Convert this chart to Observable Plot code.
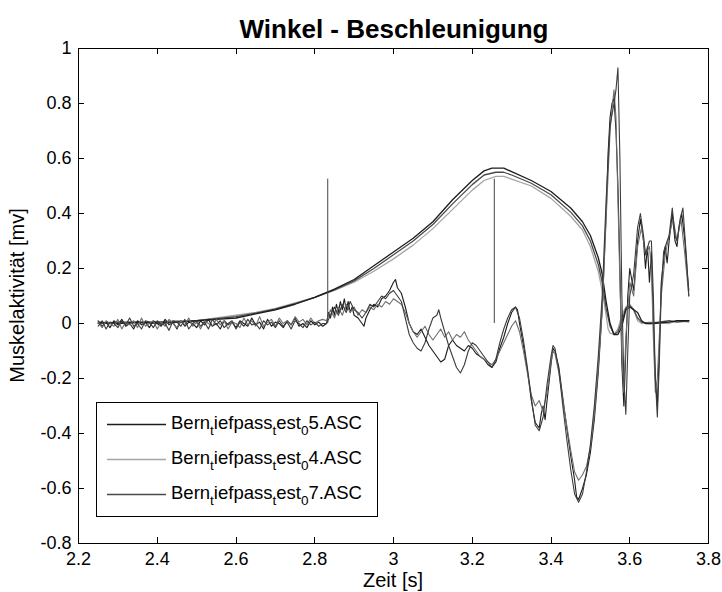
<!DOCTYPE html>
<html><head><meta charset="utf-8">
<script src="https://cdn.jsdelivr.net/npm/d3@7"></script>
<script src="https://cdn.jsdelivr.net/npm/@observablehq/plot@0.6"></script>
<style>
html,body{margin:0;padding:0;background:#fff;}
#chart svg{display:block;}
</style>
</head><body><div id="chart"></div>
<script>
// ---------- data ----------
const titleText = "Winkel - Beschleunigung";
const xLabel = "Zeit [s]";
const yLabel = "Muskelaktivität [mv]";
const xTicks = [2.2, 2.4, 2.6, 2.8, 3, 3.2, 3.4, 3.6, 3.8];
const yTicks = [-0.8, -0.6, -0.4, -0.2, 0, 0.2, 0.4, 0.6, 0.8, 1];
const seriesNames = ["Bern_tiefpass_test_05.ASC", "Bern_tiefpass_test_04.ASC", "Bern_tiefpass_test_07.ASC"];
const seriesColors = ["#1c1c1c", "#a4a4a4", "#4a4a4a"];

const markerTimes = [2.833, 3.256];
const markerBase = 0;
const markerTop = 0.525;

// baseline EMG noise, sampled every 0.01 s starting at 2.25 s
const baseStart = 2.25, baseStep = 0.01;
const noise05 = [0.01,-0.01,0.005,-0.015,0.01,-0.005,0.015,-0.01,0.0,-0.02,0.01,-0.005,0.005,-0.015,0.01,0.0,-0.01,0.015,-0.005,0.005,-0.02,0.01,-0.01,0.005,0.0,-0.015,0.01,-0.005,0.015,-0.01,0.0,-0.02,0.01,-0.005,0.005,-0.015,0.01,0.0,-0.01,0.02,-0.005,0.005,-0.02,0.015,-0.01,0.005,0.0,-0.015,0.01,-0.005,0.02,-0.01,0.0,-0.015,0.01,-0.005,0.005,-0.01];
const noise04 = [0.005,-0.015,0.01,0.0,-0.01,0.015,-0.02,0.005,-0.005,0.01,-0.015,0.02,-0.01,0.0,0.01,-0.02,0.005,-0.01,0.015,0.0,-0.015,0.01,-0.005,0.02,-0.01,0.005,-0.02,0.01,0.0,-0.01,0.015,-0.005,0.01,-0.02,0.005,0.0,-0.015,0.02,-0.005,0.01,-0.01,0.025,-0.01,0.005,0.015,-0.01,0.02,0.0,0.01,-0.005,0.025,0.005,0.015,-0.005,0.02,0.0,0.01,0.015];
const noise07 = [-0.01,0.01,-0.02,0.005,0.0,-0.015,0.01,-0.005,0.02,-0.01,0.0,-0.02,0.01,0.005,-0.015,0.01,-0.005,0.0,-0.025,0.01,0.005,-0.01,0.015,-0.02,0.0,0.01,-0.01,0.005,-0.02,0.015,-0.005,0.01,-0.015,0.0,0.01,-0.02,0.005,-0.01,0.015,-0.005,0.0,-0.02,0.01,-0.005,0.005,-0.015,0.01,-0.01,0.005,-0.02,0.01,0.0,-0.015,0.01,-0.005,0.005,-0.01,0.0];

// EMG detail [time, value]
const emg05 = [[2.83,0.0],[2.835,0.04],[2.84,0.02],[2.845,0.06],[2.85,0.03],[2.855,0.07],[2.86,0.04],[2.865,0.08],[2.87,0.05],[2.875,0.09],[2.88,0.05],[2.885,0.08],[2.89,0.04],[2.895,0.06],[2.9,0.03],[2.91,0.02],[2.92,0.0],[2.925,-0.01],[2.93,0.02],[2.94,0.05],[2.95,0.07],[2.96,0.06],[2.97,0.09],[2.98,0.1],[2.99,0.12],[3.0,0.15],[3.005,0.16],[3.01,0.13],[3.02,0.11],[3.03,0.06],[3.04,0.0],[3.05,-0.03],[3.06,-0.04],[3.07,-0.02],[3.08,-0.05],[3.09,-0.08],[3.1,-0.1],[3.11,-0.12],[3.12,-0.14],[3.13,-0.13],[3.14,-0.08],[3.15,-0.06],[3.16,-0.08],[3.17,-0.09],[3.18,-0.1],[3.19,-0.08],[3.2,-0.09],[3.21,-0.11],[3.22,-0.12],[3.23,-0.13],[3.24,-0.15],[3.25,-0.16],[3.26,-0.14],[3.27,-0.09],[3.28,-0.05],[3.29,0.0],[3.3,0.04],[3.31,0.06],[3.315,0.05],[3.32,0.0],[3.33,-0.08],[3.34,-0.17],[3.35,-0.28],[3.36,-0.36],[3.37,-0.38],[3.375,-0.33],[3.38,-0.3],[3.385,-0.35],[3.39,-0.28],[3.4,-0.15],[3.405,-0.09],[3.41,-0.1],[3.42,-0.16],[3.43,-0.27],[3.44,-0.38],[3.45,-0.48],[3.46,-0.57],[3.465,-0.63],[3.47,-0.64],[3.48,-0.6],[3.49,-0.55],[3.5,-0.47],[3.51,-0.35],[3.52,-0.18],[3.53,0.05],[3.54,0.4],[3.545,0.62],[3.55,0.75],[3.555,0.8],[3.56,0.82],[3.565,0.7],[3.57,0.5],[3.575,0.2],[3.58,-0.15],[3.585,-0.3],[3.59,-0.1],[3.595,0.1],[3.6,0.2],[3.61,0.12],[3.62,0.3],[3.627,0.38],[3.635,0.3],[3.64,0.2],[3.645,0.28],[3.65,0.15],[3.655,0.26],[3.66,0.0],[3.665,-0.2],[3.67,-0.3],[3.675,-0.1],[3.68,0.15],[3.69,0.28],[3.695,0.22],[3.7,0.3],[3.708,0.4],[3.715,0.3],[3.72,0.28],[3.725,0.35],[3.732,0.4],[3.74,0.3],[3.745,0.2],[3.75,0.12]];
const emg04 = [[2.83,0.01],[2.84,0.05],[2.85,0.02],[2.86,0.06],[2.87,0.03],[2.88,0.07],[2.89,0.04],[2.9,0.06],[2.91,0.03],[2.92,0.05],[2.93,0.04],[2.94,0.06],[2.95,0.05],[2.96,0.07],[2.97,0.06],[2.98,0.08],[2.99,0.07],[3.0,0.09],[3.01,0.08],[3.02,0.07],[3.03,0.04],[3.04,0.0],[3.05,-0.03],[3.06,-0.05],[3.07,-0.03],[3.08,-0.01],[3.09,-0.04],[3.1,-0.06],[3.11,-0.04],[3.12,-0.02],[3.13,-0.05],[3.14,-0.03],[3.15,-0.06],[3.16,-0.04],[3.17,-0.05],[3.18,-0.03],[3.19,-0.06],[3.2,-0.08],[3.21,-0.1],[3.22,-0.12],[3.23,-0.13],[3.24,-0.14],[3.25,-0.15],[3.26,-0.13],[3.27,-0.1],[3.28,-0.07],[3.29,-0.04],[3.3,-0.01],[3.31,0.01],[3.32,-0.03],[3.33,-0.1],[3.34,-0.18],[3.35,-0.26],[3.36,-0.3],[3.37,-0.28],[3.38,-0.32],[3.39,-0.25],[3.4,-0.14],[3.405,-0.1],[3.41,-0.11],[3.42,-0.18],[3.43,-0.28],[3.44,-0.37],[3.45,-0.46],[3.46,-0.54],[3.47,-0.57],[3.48,-0.55],[3.49,-0.52],[3.5,-0.45],[3.51,-0.33],[3.52,-0.16],[3.53,0.05],[3.54,0.38],[3.55,0.7],[3.555,0.78],[3.56,0.85],[3.565,0.75],[3.57,0.45],[3.575,0.15],[3.58,-0.1],[3.585,-0.25],[3.59,-0.05],[3.6,0.15],[3.61,0.1],[3.62,0.28],[3.63,0.35],[3.64,0.25],[3.65,0.28],[3.655,0.2],[3.66,-0.05],[3.665,-0.25],[3.67,-0.2],[3.68,0.1],[3.69,0.25],[3.7,0.32],[3.71,0.38],[3.72,0.3],[3.73,0.38],[3.74,0.25],[3.75,0.1]];
const emg07 = [[2.83,0.0],[2.84,0.03],[2.85,0.06],[2.86,0.03],[2.87,0.07],[2.88,0.04],[2.89,0.08],[2.9,0.05],[2.91,0.04],[2.92,0.02],[2.93,0.04],[2.94,0.07],[2.95,0.06],[2.96,0.08],[2.97,0.1],[2.98,0.09],[2.99,0.11],[3.0,0.12],[3.01,0.1],[3.02,0.08],[3.03,0.02],[3.04,-0.04],[3.05,-0.07],[3.06,-0.09],[3.07,-0.1],[3.08,-0.07],[3.09,-0.02],[3.1,0.02],[3.11,0.03],[3.115,0.05],[3.12,0.02],[3.13,-0.03],[3.14,-0.08],[3.15,-0.12],[3.16,-0.16],[3.17,-0.18],[3.18,-0.15],[3.19,-0.1],[3.2,-0.07],[3.21,-0.08],[3.22,-0.1],[3.23,-0.12],[3.24,-0.14],[3.25,-0.16],[3.26,-0.13],[3.27,-0.07],[3.28,-0.02],[3.29,0.02],[3.3,0.05],[3.31,0.06],[3.32,0.02],[3.33,-0.06],[3.34,-0.16],[3.35,-0.27],[3.36,-0.37],[3.37,-0.39],[3.38,-0.34],[3.39,-0.22],[3.4,-0.12],[3.405,-0.08],[3.41,-0.09],[3.42,-0.17],[3.43,-0.3],[3.44,-0.42],[3.45,-0.53],[3.46,-0.62],[3.47,-0.65],[3.48,-0.62],[3.49,-0.54],[3.5,-0.44],[3.51,-0.3],[3.52,-0.12],[3.53,0.1],[3.54,0.45],[3.55,0.72],[3.56,0.8],[3.565,0.85],[3.57,0.93],[3.575,0.6],[3.58,0.1],[3.585,-0.2],[3.59,-0.33],[3.595,-0.1],[3.6,0.1],[3.61,0.18],[3.62,0.35],[3.627,0.4],[3.635,0.32],[3.64,0.25],[3.65,0.3],[3.655,0.3],[3.66,0.1],[3.665,-0.2],[3.67,-0.34],[3.675,-0.15],[3.68,0.12],[3.686,0.26],[3.695,0.3],[3.7,0.32],[3.708,0.42],[3.715,0.32],[3.72,0.3],[3.728,0.38],[3.735,0.42],[3.74,0.32],[3.745,0.22],[3.75,0.1]];

// angle curves [time, value]
const ang05 = [[2.25,0.005],[2.3,0.0],[2.35,0.005],[2.4,0.005],[2.45,0.005],[2.5,0.01],[2.55,0.015],[2.6,0.02],[2.65,0.035],[2.7,0.05],[2.75,0.07],[2.8,0.095],[2.85,0.125],[2.9,0.16],[2.95,0.21],[3.0,0.26],[3.05,0.31],[3.1,0.37],[3.15,0.45],[3.2,0.52],[3.23,0.555],[3.25,0.565],[3.28,0.565],[3.3,0.552],[3.35,0.52],[3.4,0.48],[3.45,0.42],[3.48,0.37],[3.5,0.32],[3.52,0.24],[3.53,0.18],[3.54,0.08],[3.55,0.0],[3.56,-0.04],[3.57,-0.04],[3.58,-0.01],[3.59,0.05],[3.6,0.06],[3.61,0.05],[3.62,0.04],[3.63,0.01],[3.64,0.0],[3.66,0.0],[3.7,0.005],[3.72,0.01],[3.75,0.01]];
const ang04 = [[2.25,0.0],[2.3,0.005],[2.35,0.0],[2.4,0.005],[2.45,0.01],[2.5,0.01],[2.55,0.02],[2.6,0.03],[2.65,0.04],[2.7,0.055],[2.75,0.075],[2.8,0.095],[2.85,0.12],[2.9,0.15],[2.95,0.19],[3.0,0.235],[3.05,0.285],[3.1,0.345],[3.15,0.415],[3.2,0.485],[3.23,0.52],[3.26,0.535],[3.28,0.535],[3.3,0.525],[3.35,0.5],[3.4,0.455],[3.45,0.39],[3.48,0.34],[3.5,0.28],[3.52,0.19],[3.53,0.12],[3.54,0.03],[3.545,-0.02],[3.55,-0.035],[3.56,-0.04],[3.57,-0.02],[3.58,0.03],[3.59,0.06],[3.6,0.07],[3.61,0.05],[3.62,0.01],[3.63,0.0],[3.65,0.005],[3.7,0.0],[3.72,0.01],[3.75,0.005]];
const ang07 = [[2.25,0.0],[2.3,0.005],[2.35,0.005],[2.4,0.0],[2.45,0.005],[2.5,0.01],[2.55,0.018],[2.6,0.025],[2.65,0.038],[2.7,0.052],[2.75,0.072],[2.8,0.095],[2.85,0.122],[2.9,0.155],[2.95,0.2],[3.0,0.25],[3.05,0.3],[3.1,0.36],[3.15,0.435],[3.2,0.505],[3.23,0.54],[3.26,0.55],[3.28,0.55],[3.3,0.54],[3.35,0.51],[3.4,0.468],[3.45,0.405],[3.48,0.355],[3.5,0.3],[3.52,0.215],[3.53,0.15],[3.54,0.055],[3.55,-0.01],[3.56,-0.04],[3.57,-0.03],[3.58,0.01],[3.59,0.055],[3.6,0.065],[3.61,0.05],[3.62,0.02],[3.63,0.005],[3.65,0.0],[3.7,0.01],[3.72,0.005],[3.75,0.01]];

// ---------- build table ----------
function emgRows(noise, detail, name) {
  const rows = noise.map((v, i) => ({t: baseStart + i * baseStep, v, s: name}));
  return rows.concat(detail.map(([t, v]) => ({t, v, s: name})));
}
const emgData = [
  ...emgRows(noise05, emg05, "emg05"),
  ...emgRows(noise04, emg04, "emg04"),
  ...emgRows(noise07, emg07, "emg07")
];
const angData = [
  ...ang05.map(([t, v]) => ({t, v, s: "ang05"})),
  ...ang04.map(([t, v]) => ({t, v, s: "ang04"})),
  ...ang07.map(([t, v]) => ({t, v, s: "ang07"}))
];
const colorOf = {ang05: seriesColors[0], ang04: seriesColors[1], ang07: seriesColors[2]};
const emgColorOf = {emg05: "#1c1c1c", emg04: "#6e6e6e", emg07: "#3c3c3c"};

const fmt = d => String(d);
const FONT = "'Liberation Sans', Arial, sans-serif";

const plot = Plot.plot({
  width: 722, height: 592,
  marginLeft: 78, marginRight: 14, marginTop: 48, marginBottom: 49,
  x: {domain: [2.2, 3.8], label: null},
  y: {domain: [-0.8, 1], label: null},
  style: {fontFamily: FONT, fontSize: "18px", background: "#fff", color: "#000"},
  marks: [
    Plot.line(angData.filter(d => d.s === "ang04"), {x: "t", y: "v", stroke: colorOf.ang04, strokeWidth: 1.3}),
    Plot.line(angData.filter(d => d.s === "ang07"), {x: "t", y: "v", stroke: colorOf.ang07, strokeWidth: 1.3}),
    Plot.line(angData.filter(d => d.s === "ang05"), {x: "t", y: "v", stroke: colorOf.ang05, strokeWidth: 1.3}),
    Plot.line(emgData, {x: "t", y: "v", z: "s", stroke: d => emgColorOf[d.s], strokeWidth: 1.1}),
    Plot.ruleX(markerTimes, {x: d => d, y1: () => markerBase, y2: () => markerTop, stroke: "#444", strokeWidth: 1}),
    Plot.frame({stroke: "#000", strokeWidth: 1}),
    Plot.axisX({anchor: "bottom", ticks: xTicks, tickSize: 0, tickPadding: 9, tickFormat: fmt, label: null}),
    Plot.axisY({anchor: "left", ticks: yTicks, tickSize: 0, tickPadding: 7, tickFormat: fmt, label: null})
  ]
});
document.getElementById("chart").appendChild(plot);

// inward ticks on all four sides, title, labels, legend
const svg = d3.select(plot);
const sx = plot.scale("x"), sy = plot.scale("y");
const L = 78, R = 722 - 14, T = 48, B = 592 - 49, TL = 6;
const tg = svg.append("g").attr("stroke", "#000").attr("stroke-width", 1);
xTicks.forEach(v => {
  const x = Math.round(sx.apply(v)) + 0.5;
  tg.append("line").attr("x1", x).attr("x2", x).attr("y1", B).attr("y2", B - TL);
  tg.append("line").attr("x1", x).attr("x2", x).attr("y1", T).attr("y2", T + TL);
});
yTicks.forEach(v => {
  const y = Math.round(sy.apply(v)) + 0.5;
  tg.append("line").attr("y1", y).attr("y2", y).attr("x1", L).attr("x2", L + TL);
  tg.append("line").attr("y1", y).attr("y2", y).attr("x1", R).attr("x2", R - TL);
});

svg.append("text").attr("x", 394).attr("y", 38).attr("text-anchor", "middle")
  .style("font-family", FONT).style("font-weight", "bold").style("font-size", "26px")
  .text(titleText);
svg.append("text").attr("x", 393).attr("y", 587).attr("text-anchor", "middle")
  .style("font-family", FONT).style("font-size", "20px").text(xLabel);
svg.append("text").attr("transform", `translate(24,${(T + B) / 2}) rotate(-90)`).attr("text-anchor", "middle")
  .style("font-family", FONT).style("font-size", "20px").text(yLabel);

// legend
const lg = svg.append("g");
lg.append("rect").attr("x", 96.5).attr("y", 402.5).attr("width", 281).attr("height", 114)
  .attr("fill", "#fff").attr("stroke", "#000").attr("stroke-width", 1);
const rowsY = [424, 459, 494];
seriesNames.forEach((name, i) => {
  const y = rowsY[i];
  lg.append("line").attr("x1", 107).attr("x2", 166).attr("y1", y + 0.5).attr("y2", y + 0.5)
    .attr("stroke", seriesColors[i]).attr("stroke-width", 1.3);
  const t = lg.append("text").attr("x", 171).attr("y", y + 5).attr("text-anchor", "start")
    .style("font-family", FONT).style("font-size", "18.5px").attr("fill", "#000");
  // TeX-style: the character after "_" becomes a subscript
  const parts = name.split("_");
  parts.forEach((p, k) => {
    if (k === 0) { t.append("tspan").text(p); return; }
    t.append("tspan").attr("dy", 6).style("font-size", "13.5px").text(p[0]);
    t.append("tspan").attr("dy", -6).text(p.slice(1));
  });
});
</script>
</body></html>
